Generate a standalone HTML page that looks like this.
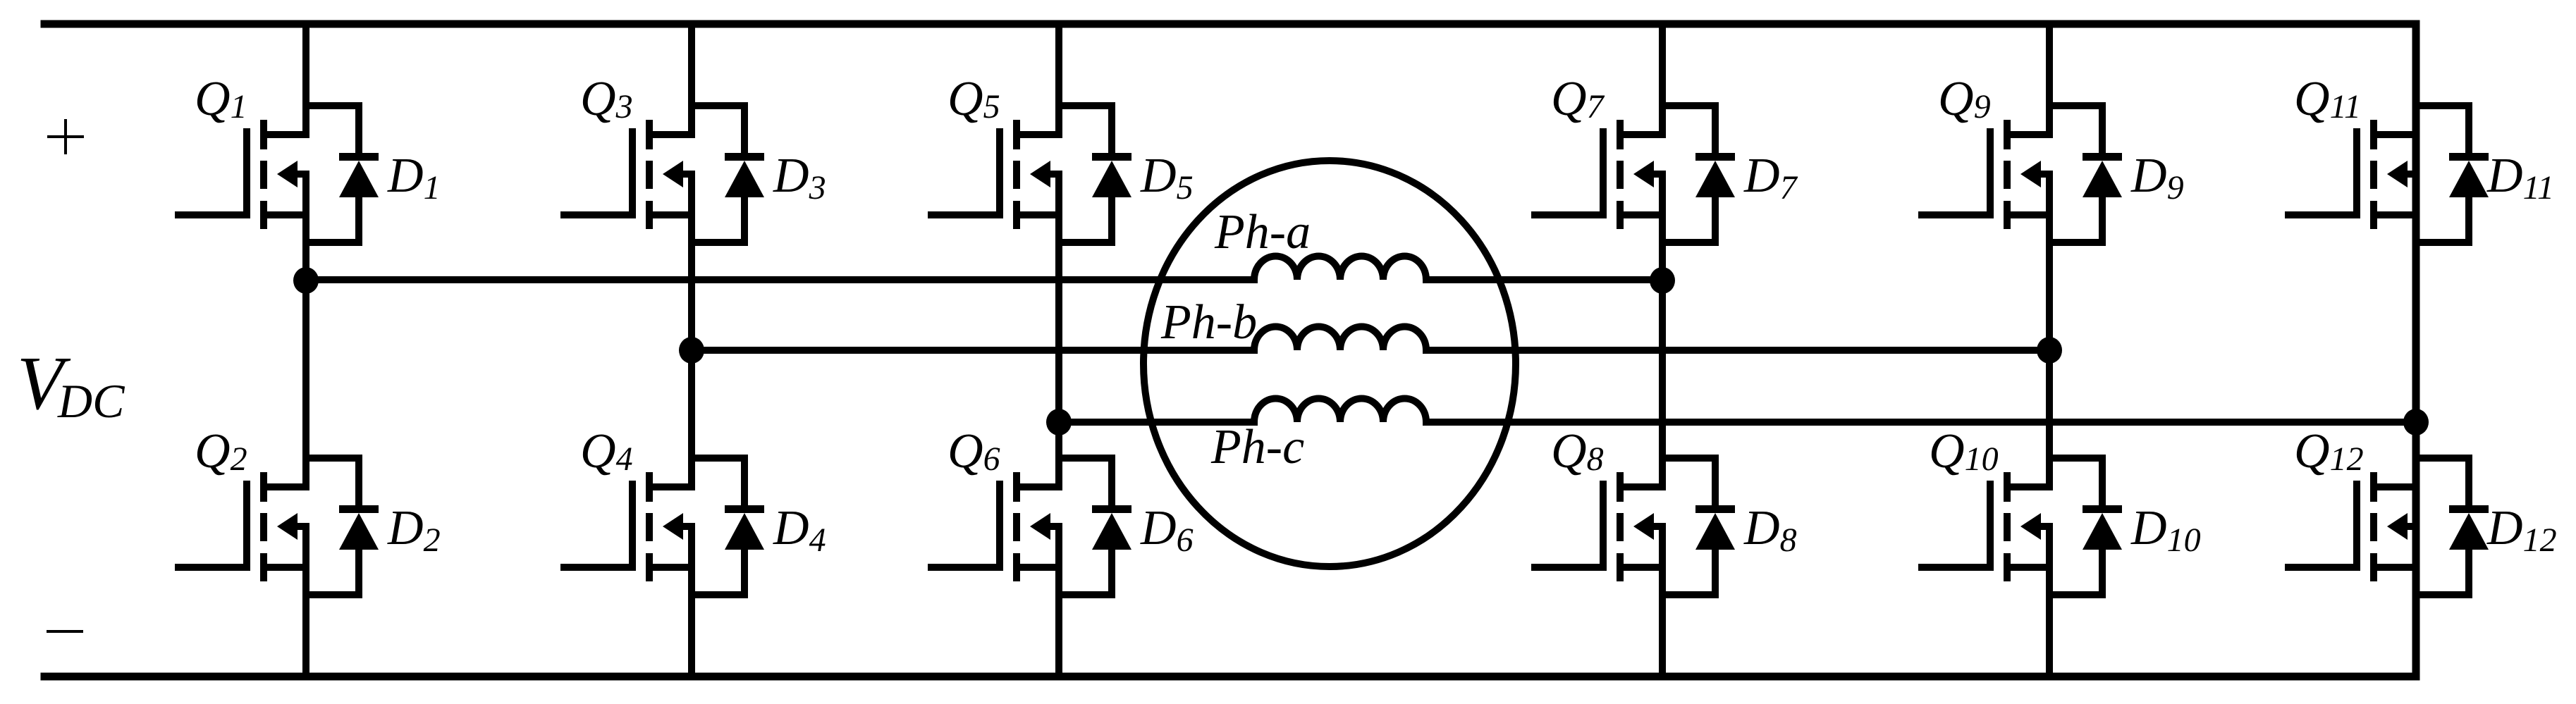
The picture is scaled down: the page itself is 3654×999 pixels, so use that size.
<!DOCTYPE html>
<html><head><meta charset="utf-8"><style>
html,body{margin:0;padding:0;background:#fff;}
svg{display:block;}
text{font-family:"Liberation Serif",serif;font-style:italic;fill:#000;}
.q{font-size:70px;}
.s{font-size:48px;}
.p{font-size:70px;}
</style></head><body>
<svg width="3654" height="999" viewBox="0 0 3654 999" xmlns="http://www.w3.org/2000/svg">
<defs>
<g id="cell">
<g fill="none" stroke="#000" stroke-width="10" stroke-linecap="square">
<path d="M0,0 H75 V72 M75,130 V194 H0"/>
<path d="M0,41 H-59"/>
<path d="M0,97 H-20"/>
<path d="M0,155 H-59"/>
<path d="M-181,155 H-84 V37"/>
</g>
<rect x="-65" y="20" width="10" height="42"/>
<rect x="-65" y="78" width="10" height="40"/>
<rect x="-65" y="135" width="10" height="40"/>
<polygon points="-41,97 -12,78 -12,116"/>
<rect x="47" y="67" width="56" height="11"/>
<polygon points="75,78 47,130 103,130"/>
</g>
</defs>
<g fill="none" stroke="#000" stroke-width="11" stroke-linecap="square">
<path d="M63,34 H3427 V960 H63"/>
</g>
<g fill="none" stroke="#000" stroke-width="10">
<path d="M434,34 V191 M434,247 V691 M434,747 V960"/>
<path d="M981,34 V191 M981,247 V691 M981,747 V960"/>
<path d="M1502,34 V191 M1502,247 V691 M1502,747 V960"/>
<path d="M2358,34 V191 M2358,247 V691 M2358,747 V960"/>
<path d="M2907,34 V191 M2907,247 V691 M2907,747 V960"/>
<path d="M3427,34 V191 M3427,247 V691 M3427,747 V960"/>
<path d="M434,397 H1779 a30,33 0 0 1 61,0 a30,33 0 0 1 61,0 a30,33 0 0 1 61,0 a30,33 0 0 1 61,0 H2358"/>
<path d="M981,497 H1779 a30,33 0 0 1 61,0 a30,33 0 0 1 61,0 a30,33 0 0 1 61,0 a30,33 0 0 1 61,0 H2907"/>
<path d="M1502,599 H1779 a30,33 0 0 1 61,0 a30,33 0 0 1 61,0 a30,33 0 0 1 61,0 a30,33 0 0 1 61,0 H3427"/>
<ellipse cx="1886" cy="516" rx="264" ry="288"/>
</g>
<g fill="#000">
<ellipse cx="434" cy="398" rx="18" ry="19"/>
<ellipse cx="981" cy="497" rx="18" ry="19"/>
<ellipse cx="1502" cy="599" rx="18" ry="19"/>
<ellipse cx="2358" cy="398" rx="18" ry="19"/>
<ellipse cx="2907" cy="497" rx="18" ry="19"/>
<ellipse cx="3427" cy="599" rx="18" ry="19"/>
</g>
<use href="#cell" x="434" y="150"/><use href="#cell" x="434" y="650"/>
<use href="#cell" x="981" y="150"/><use href="#cell" x="981" y="650"/>
<use href="#cell" x="1502" y="150"/><use href="#cell" x="1502" y="650"/>
<use href="#cell" x="2358" y="150"/><use href="#cell" x="2358" y="650"/>
<use href="#cell" x="2907" y="150"/><use href="#cell" x="2907" y="650"/>
<use href="#cell" x="3427" y="150"/><use href="#cell" x="3427" y="650"/>
<path d="M67,194 H119 M93,169 V219" stroke="#000" stroke-width="4"/>
<path d="M66,896 H118" stroke="#000" stroke-width="4"/>
<text x="24" y="580" style="font-size:108px">V</text>
<text x="82" y="592" style="font-size:68px">DC</text>
<text class="q" x="276" y="163">Q<tspan class="s" dy="4">1</tspan></text>
<text class="q" x="276" y="663">Q<tspan class="s" dy="4">2</tspan></text>
<text class="q" x="823" y="163">Q<tspan class="s" dy="4">3</tspan></text>
<text class="q" x="823" y="663">Q<tspan class="s" dy="4">4</tspan></text>
<text class="q" x="1344" y="163">Q<tspan class="s" dy="4">5</tspan></text>
<text class="q" x="1344" y="663">Q<tspan class="s" dy="4">6</tspan></text>
<text class="q" x="2200" y="163">Q<tspan class="s" dy="4">7</tspan></text>
<text class="q" x="2200" y="663">Q<tspan class="s" dy="4">8</tspan></text>
<text class="q" x="2749" y="163">Q<tspan class="s" dy="4">9</tspan></text>
<text class="q" x="2736" y="663">Q<tspan class="s" dy="4">10</tspan></text>
<text class="q" x="3254" y="163">Q<tspan class="s" dy="4">11</tspan></text>
<text class="q" x="3254" y="663">Q<tspan class="s" dy="4">12</tspan></text>
<text class="q" x="550" y="272">D<tspan class="s" dy="10">1</tspan></text>
<text class="q" x="550" y="772">D<tspan class="s" dy="10">2</tspan></text>
<text class="q" x="1097" y="272">D<tspan class="s" dy="10">3</tspan></text>
<text class="q" x="1097" y="772">D<tspan class="s" dy="10">4</tspan></text>
<text class="q" x="1618" y="272">D<tspan class="s" dy="10">5</tspan></text>
<text class="q" x="1618" y="772">D<tspan class="s" dy="10">6</tspan></text>
<text class="q" x="2474" y="272">D<tspan class="s" dy="10">7</tspan></text>
<text class="q" x="2474" y="772">D<tspan class="s" dy="10">8</tspan></text>
<text class="q" x="3023" y="272">D<tspan class="s" dy="10">9</tspan></text>
<text class="q" x="3023" y="772">D<tspan class="s" dy="10">10</tspan></text>
<text class="q" x="3528" y="272">D<tspan class="s" dy="10">11</tspan></text>
<text class="q" x="3528" y="772">D<tspan class="s" dy="10">12</tspan></text>
<text class="p" x="1723" y="352">Ph-a</text>
<text class="p" x="1647" y="480">Ph-b</text>
<text class="p" x="1718" y="657">Ph-c</text>
</svg>
</body></html>
